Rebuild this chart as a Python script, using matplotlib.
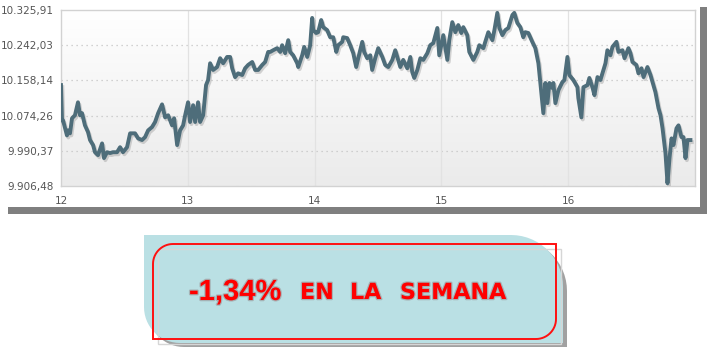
import numpy as np
import matplotlib.pyplot as plt
import matplotlib.patheffects as pe
from matplotlib.path import Path
from matplotlib.patches import PathPatch, Rectangle
from matplotlib.colors import LinearSegmentedColormap

# index values (day of month, points)
days = [12.000, 12.008, 12.016, 12.047, 12.055, 12.071, 12.087, 12.110, 12.134, 12.150,
        12.166, 12.189, 12.213, 12.229, 12.253, 12.268, 12.292, 12.324, 12.339, 12.363,
        12.387, 12.410, 12.442, 12.466, 12.489, 12.521, 12.545, 12.584, 12.608, 12.639,
        12.663, 12.687, 12.718, 12.742, 12.766, 12.797, 12.821, 12.845, 12.876, 12.892,
        12.916, 12.939, 12.963, 12.979, 13.002, 13.018, 13.042, 13.058, 13.081, 13.097,
        13.121, 13.144, 13.160, 13.176, 13.200, 13.231, 13.255, 13.279, 13.310, 13.334,
        13.350, 13.373, 13.397, 13.429, 13.452, 13.476, 13.508, 13.531, 13.555, 13.587,
        13.610, 13.634, 13.650, 13.673, 13.705, 13.729, 13.744, 13.768, 13.792, 13.807,
        13.831, 13.863, 13.871, 13.902, 13.918, 13.942, 13.965, 13.981, 13.989, 14.013,
        14.028, 14.052, 14.068, 14.099, 14.123, 14.147, 14.171, 14.186, 14.218, 14.226,
        14.257, 14.281, 14.305, 14.328, 14.344, 14.376, 14.391, 14.415, 14.439, 14.454,
        14.478, 14.502, 14.534, 14.557, 14.581, 14.613, 14.636, 14.652, 14.676, 14.699,
        14.731, 14.755, 14.770, 14.786, 14.810, 14.834, 14.857, 14.889, 14.912, 14.936,
        14.968, 14.983, 15.015, 15.047, 15.062, 15.086, 15.110, 15.133, 15.157, 15.173,
        15.204, 15.220, 15.252, 15.283, 15.299, 15.331, 15.346, 15.370, 15.402, 15.418,
        15.441, 15.457, 15.481, 15.504, 15.528, 15.560, 15.575, 15.599, 15.623, 15.646,
        15.662, 15.686, 15.717, 15.741, 15.765, 15.788, 15.804, 15.820, 15.836, 15.852,
        15.875, 15.883, 15.899, 15.923, 15.954, 15.970, 15.994, 16.009, 16.041, 16.073,
        16.080, 16.104, 16.120, 16.152, 16.167, 16.191, 16.207, 16.231, 16.254, 16.270,
        16.294, 16.309, 16.333, 16.349, 16.381, 16.396, 16.428, 16.444, 16.475, 16.491,
        16.507, 16.538, 16.554, 16.578, 16.594, 16.625, 16.649, 16.665, 16.688, 16.712,
        16.728, 16.744, 16.752, 16.767, 16.783, 16.799, 16.815, 16.830, 16.854, 16.870,
        16.893, 16.909, 16.925, 16.941, 16.964]
values = [10147, 10063, 10063, 10027, 10039, 10032, 10068, 10075, 10106, 10075,
          10080, 10051, 10035, 10016, 10004, 9987, 9980, 10008, 9973, 9987,
          9985, 9987, 9987, 9999, 9987, 9999, 10032, 10032, 10020, 10016,
          10023, 10039, 10047, 10059, 10080, 10101, 10070, 10075, 10051, 10068,
          10004, 10039, 10051, 10075, 10106, 10059, 10099, 10059, 10106, 10059,
          10075, 10147, 10159, 10199, 10183, 10190, 10211, 10199, 10214, 10214,
          10187, 10166, 10175, 10171, 10187, 10195, 10202, 10183, 10183, 10195,
          10202, 10226, 10226, 10230, 10235, 10226, 10242, 10223, 10254, 10226,
          10218, 10199, 10190, 10218, 10238, 10214, 10242, 10307, 10278, 10271,
          10273, 10302, 10285, 10278, 10261, 10261, 10226, 10242, 10250, 10261,
          10259, 10242, 10223, 10190, 10211, 10250, 10226, 10211, 10218, 10183,
          10211, 10235, 10214, 10195, 10190, 10207, 10230, 10214, 10190, 10207,
          10187, 10214, 10178, 10164, 10183, 10211, 10207, 10223, 10242, 10247,
          10283, 10218, 10266, 10207, 10254, 10297, 10273, 10290, 10271, 10285,
          10266, 10226, 10207, 10226, 10242, 10235, 10250, 10273, 10254, 10278,
          10319, 10283, 10266, 10278, 10283, 10314, 10319, 10295, 10285, 10261,
          10273, 10271, 10250, 10235, 10199, 10128, 10080, 10152, 10104, 10152,
          10140, 10152, 10104, 10135, 10154, 10159, 10214, 10171, 10159, 10142,
          10116, 10070, 10142, 10147, 10164, 10142, 10123, 10166, 10159, 10175,
          10199, 10230, 10218, 10238, 10250, 10226, 10230, 10211, 10235, 10223,
          10202, 10195, 10175, 10187, 10166, 10190, 10171, 10154, 10130, 10092,
          10075, 10044, 10023, 9985, 9913, 9973, 10020, 10004, 10044, 10051,
          10023, 10023, 9973, 10016, 10016]

ytick_vals = [9906.48, 9990.37, 10074.26, 10158.14, 10242.03, 10325.91]
ytick_labels = ['9.906,48', '9.990,37', '10.074,26', '10.158,14', '10.242,03', '10.325,91']
xtick_vals = [12, 13, 14, 15, 16]
xtick_labels = ['12', '13', '14', '15', '16']

caption_pct = '-1,34%'
caption_words = ['EN', 'LA', 'SEMANA']

W, H = 715, 353


def rounded_path(x0, y0, x1, y1, tl=0, tr=0, br=0, bl=0):
    # corners walked clockwise in a y-down pixel frame
    pts = []
    for (cx, cy, r, a0) in [(x0 + tl, y0 + tl, tl, 180), (x1 - tr, y0 + tr, tr, 270),
                            (x1 - br, y1 - br, br, 0), (x0 + bl, y1 - bl, bl, 90)]:
        ang = np.radians(np.linspace(a0, a0 + 90, 16))
        pts += list(zip(cx + r * np.cos(ang), cy + r * np.sin(ang)))
    pts.append(pts[0])
    return Path(pts, closed=True)


def main():
    fig = plt.figure(figsize=(W / 100, H / 100), dpi=100)
    fig.patch.set_facecolor('white')

    # overlay in pixel units for frame shadows and the caption box
    ov = fig.add_axes([0, 0, 1, 1], zorder=0)
    ov.set_xlim(0, W)
    ov.set_ylim(H, 0)
    ov.axis('off')
    ov.add_patch(Rectangle((8, 207), 699, 7, color='#7f7f7f', lw=0))
    ov.add_patch(Rectangle((700, 7), 7, 207, color='#7f7f7f', lw=0))

    # caption box
    ov.add_patch(PathPatch(rounded_path(148, 239, 567, 347, tr=52, bl=36),
                           fc='#8a8a8a', ec='none', alpha=0.8))
    ov.add_patch(PathPatch(rounded_path(144, 235, 563, 343, tr=52, bl=36),
                           fc='#bae0e4', ec='none'))
    ov.add_patch(Rectangle((158, 249), 403, 95, fc='none', ec='#d6d6d6', lw=1))
    ov.add_patch(PathPatch(rounded_path(153, 244, 556, 339, tl=20, br=20),
                           fc='none', ec='#ff1010', lw=1.4))
    glow = [pe.withStroke(linewidth=1.8, foreground='#6a2a2a', alpha=0.25)]
    ov.text(189, 292, caption_pct, fontsize=21, fontweight='bold', color='#ff0000',
            ha='left', va='center', family='Liberation Sans', path_effects=glow)
    for word, x in zip(caption_words, [300, 350, 400]):
        ov.text(x, 293, word, fontsize=16, fontweight='bold', color='#ff0000',
                ha='left', va='center', family='DejaVu Sans', path_effects=glow)

    # main chart
    ax = fig.add_axes([61 / W, 1 - 186 / H, 634 / W, 176 / H], zorder=1)
    ymin, ymax = ytick_vals[0], ytick_vals[-1]
    cmap = LinearSegmentedColormap.from_list('bg', ['#ebebeb', '#ffffff'])
    ax.imshow(np.linspace(0, 1, 100)[:, None], extent=[12, 17, ymin, ymax],
              aspect='auto', cmap=cmap, origin='lower', zorder=0)

    for v in ytick_vals[1:-1]:
        ax.axhline(v, color='#c4c4c4', lw=0.9, ls=(0, (1, 3)), zorder=1)
    for d in xtick_vals[1:]:
        ax.axvline(d, color='#e2e2e2', lw=0.9, zorder=1)

    ax.plot(days, values, color='#4e6d7a', lw=2.8, zorder=3,
            path_effects=[pe.SimpleLineShadow(offset=(1, -1.5), shadow_color='#888888', alpha=0.35),
                          pe.Normal()])

    ax.set_xlim(12, 17)
    ax.set_ylim(ymin, ymax)
    ax.set_yticks(ytick_vals)
    ax.set_yticklabels(ytick_labels)
    ax.set_xticks(xtick_vals)
    ax.set_xticklabels(xtick_labels)
    ax.tick_params(length=0, labelsize=7.5, labelcolor='#555555')
    ax.tick_params(axis='y', pad=5)
    ax.tick_params(axis='x', pad=7)
    for s in ax.spines.values():
        s.set_color('#d2d2d2')
        s.set_linewidth(1)

    fig.savefig('out.png', dpi=100)


if __name__ == '__main__':
    main()
